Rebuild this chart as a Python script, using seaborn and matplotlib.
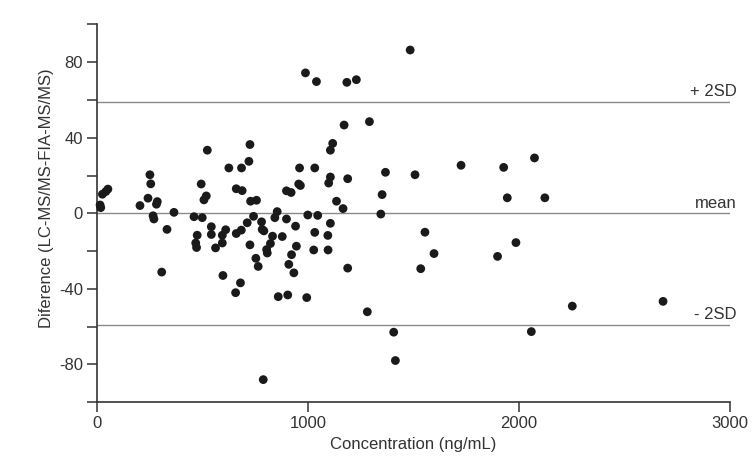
import matplotlib
matplotlib.use("Agg")
import matplotlib.pyplot as plt
import seaborn as sns
import pandas as pd
from matplotlib.ticker import FixedLocator

concentration = [
    16, 19, 27, 43, 53, 205, 252, 256, 243, 287, 283, 267, 271, 366, 333, 308,
    461, 500, 495, 519, 508, 524, 476, 469, 473, 543, 543, 563, 598, 595, 611, 595,
    626, 661, 689, 686, 721, 726, 729, 757, 743, 713, 661, 685, 726, 754, 765, 681,
    658, 781, 784, 792, 805, 808, 823, 833, 844, 855, 879, 860, 905, 899, 921, 899,
    942, 946, 923, 910, 934, 961, 957, 965, 995, 1000, 1047, 1033, 1033, 1028, 1095,
    1096, 1107, 1107, 1118, 1107, 1099, 1136, 1167, 1189, 1189, 1172, 989, 1041,
    1185, 1230, 1485, 1292, 1368, 1508, 1352, 1346, 1282, 1407, 1415, 1555, 1598,
    1535, 1726, 1928, 2074, 1945, 2123, 1986, 1899, 2059, 2253, 2683, 789,
]
difference = [
    4.4, 3, 10.1, 11.5, 12.8, 4.1, 20.4, 15.6, 8, 6.2, 4.8, -1.3, -3, 0.5, -8.5, -31.1,
    -1.8, -2.3, 15.5, 9.2, 7.1, 33.4, -11.6, -15.7, -18.1, -7.1, -11.2, -18.3, -32.9, -11.6, -8.7, -15.7,
    24, 13, 12, 24, 27.5, 36.4, 6.4, 6.9, -1.6, -5, -10.7, -8.9, -16.7, -23.8, -28.1, -36.8,
    -42, -4.5, -8.5, -9.3, -19.2, -21, -16, -12.1, -2.3, 0.9, -12.3, -44.1, -43.2, 11.9, 11, -3,
    -6.8, -17.4, -21.9, -27, -31.5, 24, 15.5, 14.7, -44.6, -0.9, -1.1, 24, -10.1, -19.4, -11.7,
    -19.4, -5.3, 33.4, 37, 19.2, 16, 6.4, 2.5, 18.3, -29, 46.7, 74.3, 69.7,
    69.3, 70.7, 86.4, 48.5, 21.7, 20.4, 9.9, -0.4, -52.1, -62.9, -77.9, -10, -21.3,
    -29.3, 25.4, 24.3, 29.3, 8.2, 8.2, -15.5, -22.8, -62.6, -49.1, -46.6, -88,
]
ref_levels = [59, 0, -59]
ref_labels = ["+ 2SD", "mean", "- 2SD"]
x_ticks = [0, 1000, 2000, 3000]
y_ticks = [-80, -40, 0, 40, 80]
y_minor_ticks = [-100, -60, -20, 20, 60, 100]

df = pd.DataFrame({"Concentration": concentration, "Difference": difference})

sns.set_theme(style="ticks")
plt.rcParams["font.family"] = ["Liberation Sans", "DejaVu Sans"]
plt.rcParams["axes.unicode_minus"] = False

fig = plt.figure(figsize=(7.52, 4.57), dpi=100)
ax = fig.add_axes([0.1286, 0.1197, 0.9707 - 0.1286, 0.9468 - 0.1197])

for lvl, lab in zip(ref_levels, ref_labels):
    ax.axhline(lvl, color="#8a8a8a", lw=1.0, zorder=1)
    ax.annotate(lab, xy=(1.0, lvl), xycoords=("axes fraction", "data"),
                xytext=(5, 2), textcoords="offset points", ha="right", va="bottom",
                fontsize=12, color="#333333", annotation_clip=False)

sns.scatterplot(data=df, x="Concentration", y="Difference", ax=ax, s=40,
                color="#1a1a1a", edgecolor="none", linewidth=0, zorder=3, clip_on=False)

ax.set_xlim(0, 3000)
ax.set_ylim(-100, 100)
ax.set_xticks(x_ticks)
ax.set_yticks(y_ticks)
ax.yaxis.set_minor_locator(FixedLocator(y_minor_ticks))
ax.tick_params(axis="both", which="both", direction="out", length=7, width=1.1,
               color="#333333", labelsize=12, labelcolor="#333333", pad=3)
ax.tick_params(axis="y", which="minor", length=7)
ax.set_xlabel("Concentration (ng/mL)", fontsize=12, color="#333333", labelpad=4)
ax.set_ylabel("Diference (LC-MS/MS-FIA-MS/MS)", fontsize=12, color="#333333")
ax.yaxis.set_label_coords(-0.068, 0.54)

sns.despine(ax=ax)
for side in ["left", "bottom"]:
    ax.spines[side].set_color("#333333")
    ax.spines[side].set_linewidth(1.2)

fig.savefig("out.png", dpi=100, facecolor="white")
